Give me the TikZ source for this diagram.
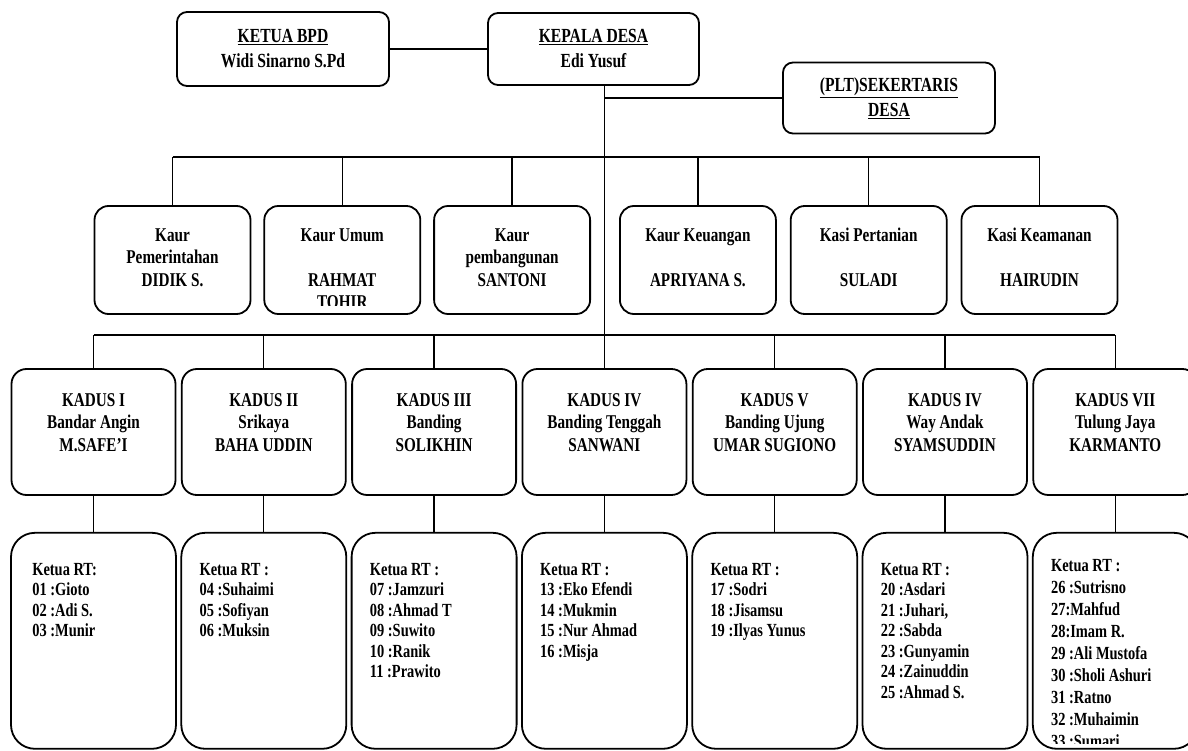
\documentclass[tikz,border=0pt]{standalone}
\usepackage{fontspec}
\setmainfont{Liberation Serif}[FakeStretch=0.78]
\usepackage{tikz}
\usetikzlibrary{positioning}

\newcommand{\topfont}{\bfseries\fontsize{20}{25}\selectfont}
\newcommand{\headfont}{\bfseries\fontsize{19.5}{22.5}\selectfont}
\newcommand{\rtfont}{\bfseries\fontsize{18.5}{20.5}\selectfont}
\newcommand{\rtwidefont}{\bfseries\fontsize{18.5}{22}\selectfont}

\begin{document}
\begin{tikzpicture}[
    x=1pt, y=-1pt,
    topbox/.style={draw, rounded corners=10pt, line width=1.8pt, minimum width=212pt, minimum height=74pt, align=center, font=\topfont},
    kaurbox/.style={draw, rounded corners=14pt, line width=1.8pt, minimum width=156pt, minimum height=108pt},
    kadusbox/.style={draw, rounded corners=15pt, line width=1.8pt, minimum width=164pt, minimum height=126pt},
    rtbox/.style={draw, rounded corners=24pt, line width=1.8pt, minimum width=165pt, minimum height=216pt},
    boxtext/.style={align=flush center, text width=150pt, inner sep=0pt, font=\headfont},
    rttext/.style={align=flush left, text width=145pt, inner sep=0pt, font=\rtfont},
    link/.style={line width=1.3pt},
    bus/.style={line width=2pt}
]

\useasboundingbox (0,0) rectangle (1188,751);

% TOP ROW
\node[topbox] (bpd) at (283,49) {\underline{KETUA BPD}\\Widi Sinarno S.Pd};
\node[topbox, minimum width=211pt, minimum height=72pt] (kades) at (593.5,49) {\underline{KEPALA DESA}\\Edi Yusuf};
\node[topbox, minimum height=71pt] (sekdes) at (889,98) {\underline{(PLT)SEKERTARIS}\\\underline{DESA}};

% KAUR / KASI
\node[kaurbox] (kaur1) at (172.5,260) {};
\node[kaurbox, right=12pt of kaur1] (kaur2) {};
\node[kaurbox, right=12pt of kaur2] (kaur3) {};
\node[kaurbox, right=28pt of kaur3] (kaur4) {};
\node[kaurbox, right=13pt of kaur4] (kaur5) {};
\node[kaurbox, right=13pt of kaur5] (kaur6) {};

\node[boxtext, below=23pt of kaur1.north] (kaur1txt) {Kaur\\Pemerintahan\\DIDIK S.};
% name runs out of the text frame
\begin{scope}
  \clip ([yshift=9pt]kaur2.south west) rectangle (kaur2.north east);
  \node[boxtext, below=23pt of kaur2.north] (kaur2txt) {Kaur Umum\\~\\RAHMAT\\TOHIR};
\end{scope}
\node[boxtext, below=23pt of kaur3.north] (kaur3txt) {Kaur\\pembangunan\\SANTONI};
\node[boxtext, below=23pt of kaur4.north] (kaur4txt) {Kaur Keuangan\\~\\APRIYANA S.};
\node[boxtext, below=23pt of kaur5.north] (kaur5txt) {Kasi Pertanian\\~\\SULADI};
\node[boxtext, below=23pt of kaur6.north] (kaur6txt) {Kasi Keamanan\\~\\HAIRUDIN};

% KADUS
\node[kadusbox] (kadus1) at (93.5,432) {};
\node[kadusbox, right=4.5pt of kadus1] (kadus2) {};
\node[kadusbox, right=4.5pt of kadus2] (kadus3) {};
\node[kadusbox, right=4.5pt of kadus3] (kadus4) {};
\node[kadusbox, right=4.5pt of kadus4] (kadus5) {};
\node[kadusbox, right=4.5pt of kadus5] (kadus6) {};
\node[kadusbox, right=4.5pt of kadus6] (kadus7) {};

\node[boxtext, below=25pt of kadus1.north] (kadus1txt) {KADUS I\\Bandar Angin\\M.SAFE’I};
\node[boxtext, below=25pt of kadus2.north] (kadus2txt) {KADUS II\\Srikaya\\BAHA UDDIN};
\node[boxtext, below=25pt of kadus3.north] (kadus3txt) {KADUS III\\Banding\\SOLIKHIN};
\node[boxtext, below=25pt of kadus4.north] (kadus4txt) {KADUS IV\\Banding Tenggah\\SANWANI};
\node[boxtext, below=25pt of kadus5.north] (kadus5txt) {KADUS V\\Banding Ujung\\UMAR SUGIONO};
\node[boxtext, below=25pt of kadus6.north] (kadus6txt) {KADUS IV\\Way Andak\\SYAMSUDDIN};
\node[boxtext, below=25pt of kadus7.north] (kadus7txt) {KADUS VII\\Tulung Jaya\\KARMANTO};

% KETUA RT
\node[rtbox, below=36pt of kadus1] (rt1) {};
\node[rtbox, below=36pt of kadus2] (rt2) {};
\node[rtbox, below=36pt of kadus3] (rt3) {};
\node[rtbox, below=36pt of kadus4] (rt4) {};
\node[rtbox, below=36pt of kadus5] (rt5) {};
\node[rtbox, below=36pt of kadus6] (rt6) {};
\node[rtbox, below=36pt of kadus7] (rt7) {};

\node[rttext, below right=31pt and 22pt of rt1.north west] (rt1txt) {Ketua RT:\\01 :Gioto\\02 :Adi S.\\03 :Munir};
\node[rttext, below right=31pt and 19pt of rt2.north west] (rt2txt) {Ketua RT :\\04 :Suhaimi\\05 :Sofiyan\\06 :Muksin};
\node[rttext, below right=31pt and 19pt of rt3.north west] (rt3txt) {Ketua RT :\\07 :Jamzuri\\08 :Ahmad T\\09 :Suwito\\10 :Ranik\\11 :Prawito};
\node[rttext, below right=31pt and 19pt of rt4.north west] (rt4txt) {Ketua RT :\\13 :Eko Efendi\\14 :Mukmin\\15 :Nur Ahmad\\16 :Misja};
\node[rttext, below right=31pt and 19pt of rt5.north west] (rt5txt) {Ketua RT :\\17 :Sodri\\18 :Jisamsu\\19 :Ilyas Yunus};
\node[rttext, below right=31pt and 19pt of rt6.north west] (rt6txt) {Ketua RT :\\20 :Asdari\\21 :Juhari,\\22 :Sabda\\23 :Gunyamin\\24 :Zainuddin\\25 :Ahmad S.};
% last list is cut by the box
\begin{scope}
  \clip ([yshift=6pt]rt7.south west) rectangle (rt7.north east);
  \node[rttext, font=\rtwidefont, below right=27pt and 19pt of rt7.north west] (rt7txt) {Ketua RT :\\26 :Sutrisno\\27:Mahfud\\28:Imam R.\\29 :Ali Mustofa\\30 :Sholi Ashuri\\31 :Ratno\\32 :Muhaimin\\33 :Sumari};
\end{scope}

% LINES
\coordinate (kaurbus) at (601,157);
\coordinate (kadusbus) at (601,335);

\draw[link] (bpd) -- (kades);
% trunk from Kepala Desa down to the kadus row
\draw[link] (kades.south -| kadus4.north) -- (kadus4.north);
\draw[link] (sekdes.west) -- (sekdes.west -| kadus4.north);

% kaur bus
\draw[bus] (kaur1.north |- kaurbus) -- (kaur6.north |- kaurbus);
\draw[link] (kaur1.north) -- (kaur1.north |- kaurbus);
\draw[link] (kaur2.north) -- (kaur2.north |- kaurbus);
\draw[link] (kaur3.north) -- (kaur3.north |- kaurbus);
\draw[link] (kaur4.north) -- (kaur4.north |- kaurbus);
\draw[link] (kaur5.north) -- (kaur5.north |- kaurbus);
\draw[link] (kaur6.north) -- (kaur6.north |- kaurbus);

% kadus bus
\draw[bus] (kadus1.north |- kadusbus) -- (kadus7.north |- kadusbus);
\draw[link] (kadus1.north) -- (kadus1.north |- kadusbus);
\draw[link] (kadus2.north) -- (kadus2.north |- kadusbus);
\draw[link] (kadus3.north) -- (kadus3.north |- kadusbus);
\draw[link] (kadus5.north) -- (kadus5.north |- kadusbus);
\draw[link] (kadus6.north) -- (kadus6.north |- kadusbus);
\draw[link] (kadus7.north) -- (kadus7.north |- kadusbus);

% kadus to RT
\draw[link] (kadus1) -- (rt1);
\draw[link] (kadus2) -- (rt2);
\draw[link] (kadus3) -- (rt3);
\draw[link] (kadus4) -- (rt4);
\draw[link] (kadus5) -- (rt5);
\draw[link] (kadus6) -- (rt6);
\draw[link] (kadus7) -- (rt7);

\end{tikzpicture}
\end{document}
